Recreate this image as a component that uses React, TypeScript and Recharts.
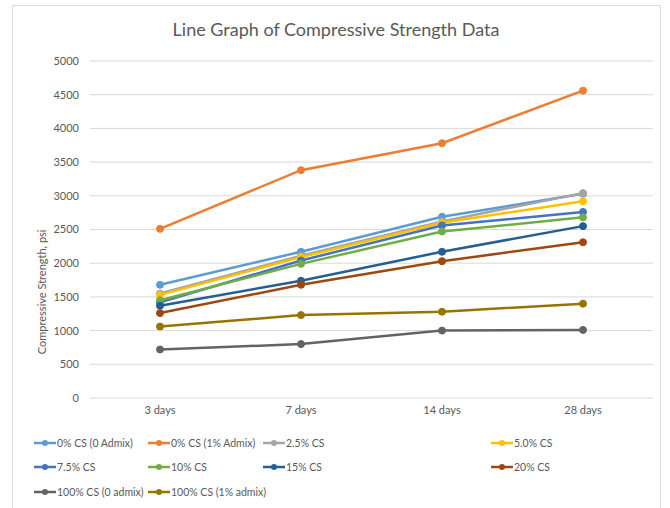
import { LineChart, Line, XAxis, YAxis, CartesianGrid } from "recharts"

const ages = ["3 days", "7 days", "14 days", "28 days"]
const yTicks = [0, 500, 1000, 1500, 2000, 2500, 3000, 3500, 4000, 4500, 5000]

const cs0NoAdmix = [1680, 2170, 2690, 3030]
const cs0Admix = [2510, 3380, 3780, 4560]
const cs25 = [1550, 2110, 2620, 3040]
const cs50 = [1530, 2090, 2600, 2920]
const cs75 = [1420, 2040, 2560, 2760]
const cs10 = [1450, 1990, 2470, 2680]
const cs15 = [1370, 1740, 2170, 2550]
const cs20 = [1260, 1680, 2030, 2310]
const cs100NoAdmix = [720, 800, 1000, 1010]
const cs100Admix = [1060, 1230, 1280, 1400]

const series = [
  { key: "a", name: "0% CS (0 Admix)", values: cs0NoAdmix, color: "#5b9bd5" },
  { key: "b", name: "0% CS (1% Admix)", values: cs0Admix, color: "#ed7d31" },
  { key: "c", name: "2.5% CS", values: cs25, color: "#a5a5a5" },
  { key: "d", name: "5.0% CS", values: cs50, color: "#ffc000" },
  { key: "e", name: "7.5% CS", values: cs75, color: "#4472c4" },
  { key: "f", name: "10% CS", values: cs10, color: "#70ad47" },
  { key: "g", name: "15% CS", values: cs15, color: "#255e91" },
  { key: "h", name: "20% CS", values: cs20, color: "#9e480e" },
  { key: "i", name: "100% CS (0 admix)", values: cs100NoAdmix, color: "#636363" },
  { key: "j", name: "100% CS (1% admix)", values: cs100Admix, color: "#997300" },
]

const data = ages.map((age, i) => {
  const row: Record<string, string | number> = { age }
  series.forEach((s) => (row[s.key] = s.values[i]))
  return row
})

const font = "Lato, 'Open Sans', sans-serif"
const legendCols = [33, 147, 262, 490]
const legendRows = [443, 467, 492]
const legendSlots = [
  [0, 0], [1, 0], [2, 0], [3, 0],
  [0, 1], [1, 1], [2, 1], [3, 1],
  [0, 2], [1, 2],
]

export default function App() {
  return (
    <div style={{ position: "absolute", left: 0, top: 0, width: 670, height: 508, background: "#fff", overflow: "hidden", fontFamily: font }}>
      <div style={{ position: "absolute", left: 12, top: 5, width: 647, height: 520, border: "1px solid #d9d9d9" }} />
      <div style={{ position: "absolute", left: 12, top: 18, width: 648, textAlign: "center", fontSize: 18, color: "#595959" }}>
        Line Graph of Compressive Strength Data
      </div>
      <div style={{ position: "absolute", left: 0, top: 0 }}>
        <LineChart width={670} height={430} data={data} margin={{ top: 61, right: 17, left: 60, bottom: 7 }}>
          <CartesianGrid vertical={false} stroke="#d9d9d9" />
          <XAxis
            dataKey="age"
            axisLine={false}
            tickLine={false}
            height={25}
            padding={{ left: 70, right: 70 }}
            tick={{ fill: "#595959", fontSize: 11, fontFamily: font }}
          />
          <YAxis
            domain={[0, 5000]}
            ticks={yTicks}
            width={30}
            axisLine={false}
            tickLine={false}
            tickMargin={5}
            tick={{ fill: "#595959", fontSize: 11, fontFamily: font }}
            label={{ value: "Compressive Strength, psi", angle: -90, position: "left", offset: 18, fill: "#595959", fontSize: 11, fontFamily: font }}
          />
          {series.map((s) => (
            <Line
              key={s.key}
              dataKey={s.key}
              name={s.name}
              stroke={s.color}
              strokeWidth={2.5}
              dot={{ r: 3.5, fill: s.color, stroke: s.color, strokeWidth: 1 }}
              isAnimationActive={false}
            />
          ))}
        </LineChart>
      </div>
      {series.map((s, i) => {
        const [c, r] = legendSlots[i]
        return (
          <div key={s.key} style={{ position: "absolute", left: legendCols[c], top: legendRows[r] - 8, height: 16, display: "flex", alignItems: "center", fontSize: 10.5, color: "#595959", whiteSpace: "nowrap" }}>
            <svg width={24} height={16}>
              <line x1={1} y1={8} x2={23} y2={8} stroke={s.color} strokeWidth={2.5} />
              <circle cx={12} cy={8} r={3} fill={s.color} />
            </svg>
            <span>{s.name}</span>
          </div>
        )
      })}
    </div>
  )
}
